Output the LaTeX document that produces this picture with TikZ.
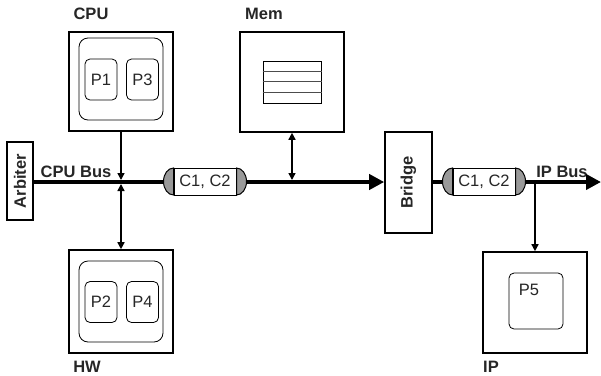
\documentclass[tikz,border=0pt]{standalone}
\usepackage{fontspec}
\setmainfont{Liberation Sans}
\usetikzlibrary{arrows.meta,positioning,calc}

\begin{document}
\begin{tikzpicture}[x=1pt,y=-1pt,font=\fontsize{16.5}{19}\selectfont,
  unit box/.style={draw,line width=1.6pt,inner sep=0pt,minimum width=104pt},
  group box/.style={draw,line width=0.8pt,rounded corners=9pt,inner sep=0pt},
  proc box/.style={draw,line width=0.8pt,rounded corners=5pt,inner sep=0pt,minimum width=32pt,minimum height=41pt,text=black!85},
  title/.style={font=\fontsize{16.5}{19}\selectfont\bfseries,text=black!85},
  capsule/.style={draw,fill=white,line width=1pt,inner sep=0pt,minimum width=62pt,minimum height=27pt,text=black!85},
  cap end/.style={draw,fill=black!40,line width=1pt},
  bus/.style={line width=4.6pt},
  link/.style={line width=1.5pt},
  tip/.tip={Triangle[length=7pt,width=7pt]},
  bigtip/.tip={Triangle[length=15pt,width=15pt]}]
\useasboundingbox (0,0) rectangle (601,375);
% units
\node[unit box,minimum height=99pt] (cpu) at (121,81.5) {};
\node[group box,minimum width=84pt,minimum height=82pt] (cpug) at (121,79) {};
\node[proc box] (p1) at (101,79.5) {P1};
\node[proc box] (p3) at (142.5,79.5) {P3};
\node[title] (cpul) at (91,14) {CPU};

\node[unit box,minimum height=103pt] (hw) at (121,301.5) {};
\node[group box,minimum width=84pt,minimum height=81pt] (hwg) at (121,301.5) {};
\node[proc box] (p2) at (101,302) {P2};
\node[proc box] (p4) at (142.5,302) {P4};
\node[title] (hwl) at (87,367) {HW};

\node[unit box,minimum height=100pt] (mem) at (292,82) {};
\node[draw,line width=1pt,minimum width=58pt,minimum height=42pt,inner sep=0pt] (tab) at (292,82) {};
\node[title] (meml) at (264,14) {Mem};

\node[unit box,minimum height=101pt] (ip) at (535,302.5) {};
\node[proc box,minimum width=54pt,minimum height=56pt] (p5) at (536,301) {};
\node[text=black!85] (p5l) at (529,290) {P5};
\node[title] (ipl) at (491,367) {IP};

\node[draw,line width=1.6pt,minimum width=26pt,minimum height=78pt,inner sep=0pt] (arb) at (20,181) {};
\node[title,rotate=90] at (arb) {Arbiter};
\node[draw,line width=1.6pt,minimum width=47pt,minimum height=101pt,inner sep=0pt] (brg) at (408.5,182.5) {};
\node[title,rotate=90] at (brg) {Bridge};

\node[capsule] (c1) at (205,182) {C1, C2};
\node[capsule] (c2) at (484,182) {C1, C2};
\coordinate (ipend) at (601,182);
\node[title] (cbl) at (76,172) {CPU Bus};
\node[title] (ibl) at (562,172) {IP Bus};

% tables rows
\foreach \r in {1,2,3}
  \draw[black!70,line width=0.8pt] ($(tab.north west)+(0,10.5*\r)$) -- ($(tab.north east)+(0,10.5*\r)$);

% buses
\draw[bus] (arb.east |- c1.west) -- (c1.west);
\draw[bus,-bigtip] (c1.east) -- (brg.west |- c1.east);
\draw[bus] (brg.east |- c2.west) -- (c2.west);
\draw[bus,-bigtip] (c2.east) -- (ipend);
\foreach \c in {c1,c2}{
  \draw[cap end] (\c.north west) arc[start angle=90,end angle=270,x radius=10pt,y radius=13.5pt] -- cycle;
  \draw[cap end] (\c.north east) arc[start angle=90,end angle=-90,x radius=10pt,y radius=13.5pt] -- cycle;
}

% links
\draw[link,-tip,shorten >=2pt] (cpu.south) -- (cpu.south |- c1.west);
\draw[link,tip-tip,shorten <=2pt] (hw.north |- c1.west) -- (hw.north);
\draw[link,tip-tip,shorten >=2pt] (mem.south) -- (mem.south |- c1.west);
\draw[link,-tip,shorten <=2pt] (ip.north |- c2.east) -- (ip.north);
\end{tikzpicture}
\end{document}
